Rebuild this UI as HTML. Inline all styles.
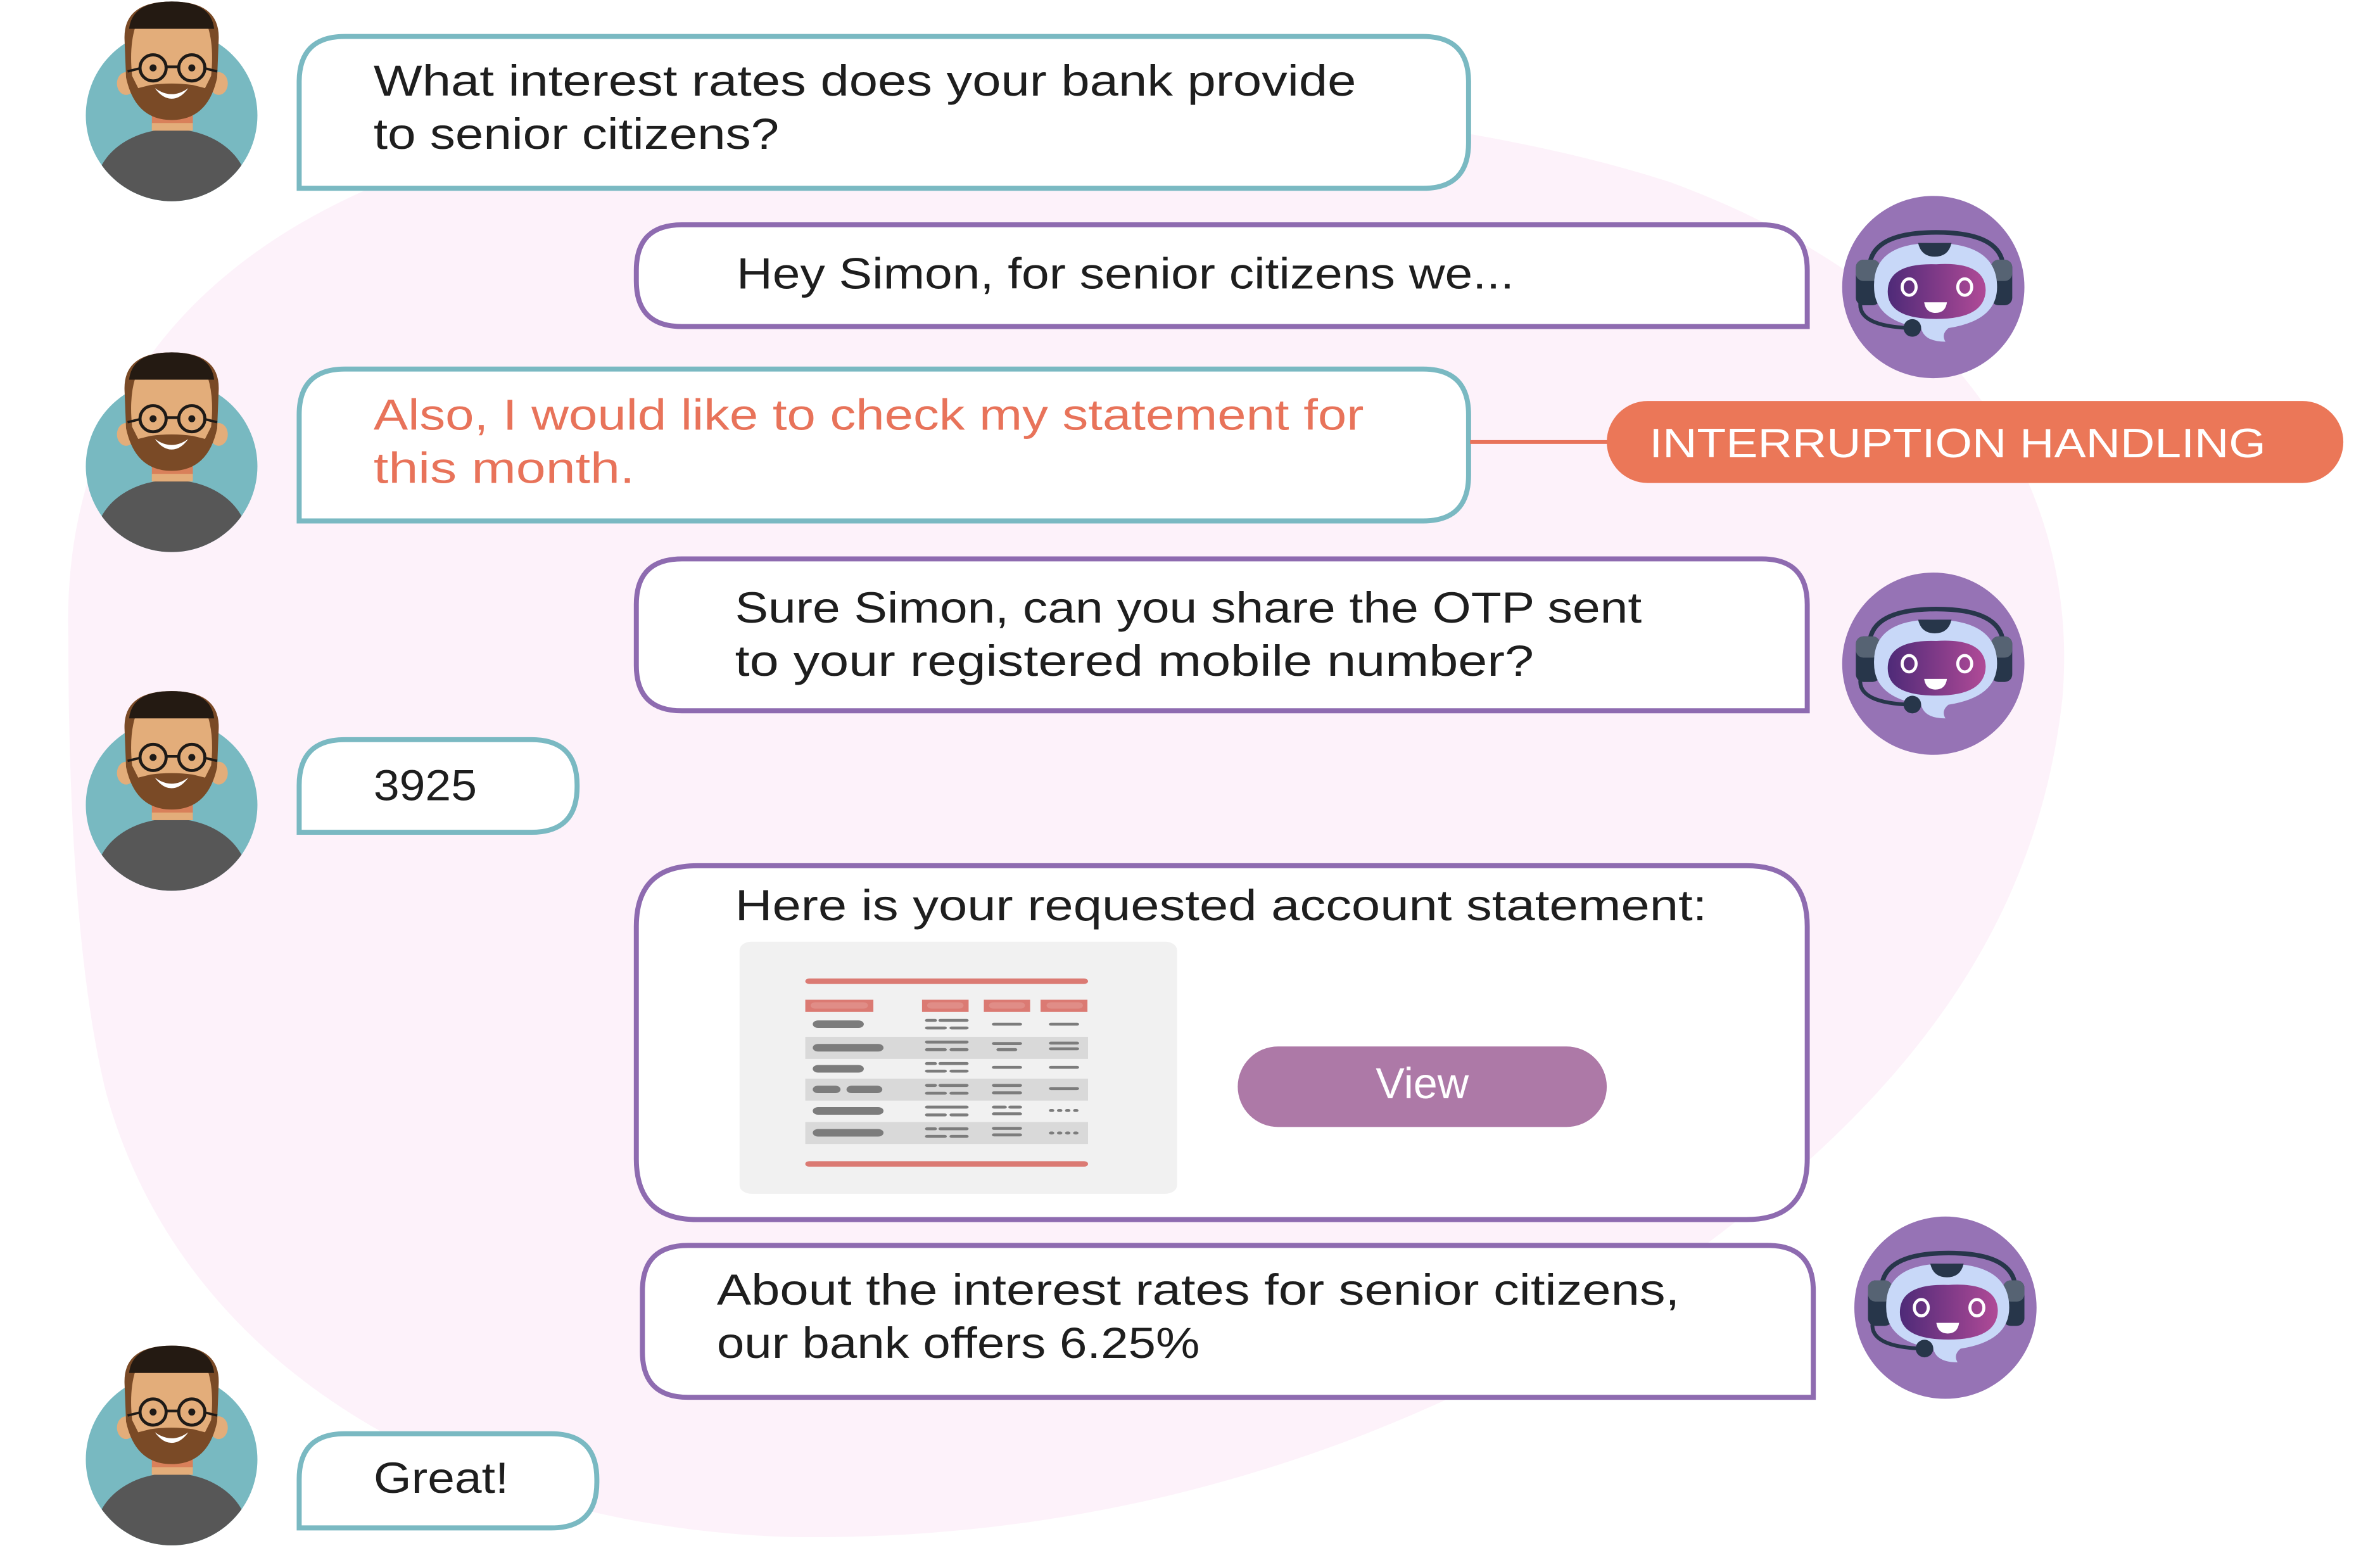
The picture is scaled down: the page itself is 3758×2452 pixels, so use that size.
<!DOCTYPE html>
<html><head><meta charset="utf-8"><style>
html,body{margin:0;padding:0;background:#fff;}
svg{display:block;}
text{font-family:"Liberation Sans",sans-serif;}
</style></head><body>
<svg width="3758" height="2452" viewBox="0 0 3758 2452" xmlns="http://www.w3.org/2000/svg">
<defs>
<clipPath id="cc"><circle cx="0" cy="0" r="56.5"/></clipPath>
<linearGradient id="vis" x1="0" y1="0" x2="1" y2="0"><stop offset="0" stop-color="#4e2a78"/><stop offset="1" stop-color="#b04a97"/></linearGradient>
<g id="man">
<circle cx="0" cy="0" r="56.5" fill="#78b9c1"/>
<g clip-path="url(#cc)"><ellipse cx="0" cy="48" rx="50" ry="39" fill="#575757"/></g>
<rect x="-13" y="-4" width="27" height="14" fill="#d9805a"/>
<rect x="-13" y="5" width="27" height="5" fill="#e3ad7a"/>
<ellipse cx="-30" cy="-21" rx="6" ry="7.5" fill="#e3ad7a"/>
<ellipse cx="31" cy="-21" rx="6" ry="7.5" fill="#e3ad7a"/>
<path d="M-31,-50 Q-32,-75 0,-75 Q32,-75 31,-50 L30,-25 Q24,3 0,3 Q-24,3 -30,-25 Z" fill="#7a4a26"/>
<path d="M-24,-58 L24,-58 Q28,-45 26,-26 L22,-18 L14,-20 Q0,-22 -14,-20 L-22,-18 L-26,-26 Q-28,-45 -24,-58 Z" fill="#e3ad7a"/>
<path d="M-28,-57 Q-26,-75 0,-75 Q26,-75 28,-57 Z" fill="#241a12"/>
<path d="M-11,-18 Q0,-10 11,-18 Q6,-11 0,-11 Q-6,-11 -11,-18 Z" fill="#fff"/>
<circle cx="-12.2" cy="-31.3" r="8.6" fill="none" stroke="#1e1a17" stroke-width="2"/>
<circle cx="13.3" cy="-31.3" r="8.6" fill="none" stroke="#1e1a17" stroke-width="2"/>
<line x1="-3.6" y1="-32" x2="4.7" y2="-32" stroke="#1e1a17" stroke-width="1.8"/>
<line x1="-20.8" y1="-31" x2="-29" y2="-29" stroke="#1e1a17" stroke-width="1.6"/>
<line x1="21.9" y1="-31" x2="30" y2="-29" stroke="#1e1a17" stroke-width="1.6"/>
<circle cx="-12.2" cy="-31.3" r="2.3" fill="#1e1a17"/>
<circle cx="13.3" cy="-31.3" r="2.3" fill="#1e1a17"/>
</g>
<g id="bot">
<circle cx="0" cy="0" r="60" fill="#9673b5"/>
<path d="M-42,-14 Q-40,-36 2,-36 Q44,-36 46,-14" fill="none" stroke="#27364a" stroke-width="3"/>
<rect x="-51" y="-18" width="16" height="30" rx="5" fill="#27364a"/>
<rect x="-51" y="-18" width="16" height="14" rx="5" fill="#566373"/>
<rect x="38" y="-18" width="14" height="30" rx="5" fill="#27364a"/>
<rect x="38" y="-18" width="14" height="14" rx="5" fill="#566373"/>
<path d="M-39,0 Q-40,-29 0,-29 Q42,-29 42,0 Q42,22 10,27 Q5,31 8,36 Q-6,36 -8,27 Q-39,22 -39,0 Z" fill="#c8d8f8"/>
<path d="M-10,-29 L12,-29 Q10,-20 1,-20 Q-8,-20 -10,-29 Z" fill="#27364a"/>
<path d="M-30,3 Q-30,-16 2,-15 Q34,-17 34.5,2 Q34,21 2,21 Q-30,21 -30,3 Z" fill="url(#vis)"/>
<ellipse cx="-15.9" cy="0" rx="4.6" ry="5.4" fill="none" stroke="#fff" stroke-width="2"/>
<ellipse cx="20.7" cy="0" rx="4.6" ry="5.4" fill="none" stroke="#fff" stroke-width="2"/>
<path d="M-6,10 L9,10 Q8,17 1.5,17 Q-5,17 -6,10 Z" fill="#fff"/>
<path d="M-48,10 Q-50,26 -14,27" fill="none" stroke="#27364a" stroke-width="2.5"/>
<circle cx="-13.8" cy="26.9" r="5.8" fill="#27364a"/>
</g>
</defs>
<g transform="scale(2.398)">
<path d="M45,420 C40,250 150,140 330,95 C550,45 900,55 1100,120 C1290,190 1370,320 1358,460 C1338,640 1220,760 1050,870 C900,960 720,1015 520,1012 C300,1005 120,900 70,720 C50,640 45,520 45,420 Z" fill="#fdf2fa"/>

<g fill="#fff" stroke-width="3.3">
<path d="M227,24 H937 Q967,24 967,54 V94 Q967,124 937,124 H197 V54 Q197,24 227,24 Z" stroke="#7ab9c2"/>
<path d="M449,148 H1160 Q1190,148 1190,178 V215 H449 Q419,215 419,185 V178 Q419,148 449,148 Z" stroke="#8e6bb0"/>
<path d="M227,243 H937 Q967,243 967,273 V313 Q967,343 937,343 H197 V273 Q197,243 227,243 Z" stroke="#7ab9c2"/>
<path d="M449,368 H1160 Q1190,368 1190,398 V468 H449 Q419,468 419,438 V398 Q419,368 449,368 Z" stroke="#8e6bb0"/>
<path d="M227,487 H350 Q380,487 380,517 V518 Q380,548 350,548 H197 V517 Q197,487 227,487 Z" stroke="#7ab9c2"/>
<path d="M459,570 H1150 Q1190,570 1190,610 V763 Q1190,803 1150,803 H459 Q419,803 419,763 V610 Q419,570 459,570 Z" stroke="#8e6bb0"/>
<path d="M453,820 H1164 Q1194,820 1194,850 V920 H453 Q423,920 423,890 V850 Q423,820 453,820 Z" stroke="#8e6bb0"/>
<path d="M227,944 H363 Q393,944 393,974 V976 Q393,1006 363,1006 H197 V974 Q197,944 227,944 Z" stroke="#7ab9c2"/>
</g>

<line x1="968" y1="291" x2="1062" y2="291" stroke="#e8735a" stroke-width="2.5"/>
<rect x="1058" y="264" width="485" height="54" rx="27" fill="#eb7758"/>
<text x="1086" y="301" font-size="27" fill="#fff" textLength="406" lengthAdjust="spacingAndGlyphs">INTERRUPTION HANDLING</text>

<g font-size="28.5" fill="#1e1e1e">
<text x="246" y="63" textLength="647" lengthAdjust="spacingAndGlyphs">What interest rates does your bank provide</text>
<text x="246" y="98" textLength="267" lengthAdjust="spacingAndGlyphs">to senior citizens?</text>
<text x="485" y="190" textLength="512" lengthAdjust="spacingAndGlyphs">Hey Simon, for senior citizens we...</text>
<text x="246" y="283" fill="#e8735a" textLength="652" lengthAdjust="spacingAndGlyphs">Also, I would like to check my statement for</text>
<text x="246" y="318" fill="#e8735a" textLength="172" lengthAdjust="spacingAndGlyphs">this month.</text>
<text x="484" y="410" textLength="597" lengthAdjust="spacingAndGlyphs">Sure Simon, can you share the OTP sent</text>
<text x="484" y="445" textLength="526" lengthAdjust="spacingAndGlyphs">to your registered mobile number?</text>
<text x="246" y="527" textLength="68" lengthAdjust="spacingAndGlyphs">3925</text>
<text x="484" y="606" textLength="640" lengthAdjust="spacingAndGlyphs">Here is your requested account statement:</text>
<text x="472" y="859" textLength="634" lengthAdjust="spacingAndGlyphs">About the interest rates for senior citizens,</text>
<text x="472" y="894" textLength="318" lengthAdjust="spacingAndGlyphs">our bank offers 6.25%</text>
<text x="246" y="983" textLength="89" lengthAdjust="spacingAndGlyphs">Great!</text>
</g>

<rect x="815" y="689" width="243" height="53" rx="26.5" fill="#ad79a7"/>
<text x="936.5" y="723" font-size="28.5" fill="#fff" text-anchor="middle">View</text>

<g transform="translate(487,620) scale(0.1966,0.1386) translate(-15,-20)">
<rect x="15" y="20" width="1465" height="1198" rx="40" fill="#f1f1f1"/>
<rect x="235" y="195" width="947" height="26" rx="13" fill="#db7a73"/>
<rect x="235" y="1063" width="947" height="26" rx="13" fill="#db7a73"/>
<g fill="#db7a73"><rect x="235" y="296" width="228" height="58"/><rect x="626" y="296" width="156" height="58"/><rect x="833" y="296" width="155" height="58"/><rect x="1023" y="296" width="157" height="58"/></g>
<g fill="#e08d87"><rect x="253" y="308" width="192" height="30" rx="15"/><rect x="643" y="308" width="122" height="30" rx="15"/><rect x="850" y="308" width="121" height="30" rx="15"/><rect x="1043" y="308" width="122" height="30" rx="15"/></g>
<g fill="#d9d9d9"><rect x="235" y="472" width="947" height="105"/><rect x="235" y="671" width="947" height="104"/><rect x="235" y="877" width="947" height="104"/></g>
<g fill="#7c7c7c">
<rect x="260" y="394" width="171" height="36" rx="18"/>
<rect x="260" y="506" width="237" height="36" rx="18"/>
<rect x="260" y="606" width="171" height="36" rx="18"/>
<rect x="260" y="704" width="93" height="36" rx="18"/><rect x="373" y="704" width="120" height="36" rx="18"/>
<rect x="260" y="806" width="237" height="36" rx="18"/>
<rect x="260" y="910" width="237" height="36" rx="18"/>
<rect x="636" y="387" width="40" height="14" rx="7"/><rect x="681" y="387" width="101" height="14" rx="7"/><rect x="636" y="423" width="73" height="14" rx="7"/><rect x="718" y="423" width="64" height="14" rx="7"/>
<rect x="636" y="490" width="146" height="14" rx="7"/><rect x="636" y="526" width="73" height="14" rx="7"/><rect x="718" y="526" width="64" height="14" rx="7"/>
<rect x="636" y="592" width="40" height="14" rx="7"/><rect x="681" y="592" width="101" height="14" rx="7"/><rect x="636" y="628" width="73" height="14" rx="7"/><rect x="718" y="628" width="64" height="14" rx="7"/>
<rect x="636" y="696" width="40" height="14" rx="7"/><rect x="681" y="696" width="101" height="14" rx="7"/><rect x="636" y="733" width="73" height="14" rx="7"/><rect x="718" y="733" width="64" height="14" rx="7"/>
<rect x="636" y="799" width="146" height="14" rx="7"/><rect x="636" y="836" width="73" height="14" rx="7"/><rect x="718" y="836" width="64" height="14" rx="7"/>
<rect x="636" y="902" width="40" height="14" rx="7"/><rect x="681" y="902" width="101" height="14" rx="7"/><rect x="636" y="938" width="73" height="14" rx="7"/><rect x="718" y="938" width="64" height="14" rx="7"/>
<rect x="860" y="405" width="101" height="14" rx="7"/>
<rect x="860" y="497" width="101" height="14" rx="7"/><rect x="875" y="526" width="70" height="14" rx="7"/>
<rect x="860" y="610" width="101" height="14" rx="7"/>
<rect x="860" y="696" width="101" height="14" rx="7"/><rect x="860" y="731" width="101" height="14" rx="7"/>
<rect x="860" y="799" width="50" height="14" rx="7"/><rect x="915" y="799" width="46" height="14" rx="7"/><rect x="860" y="831" width="101" height="14" rx="7"/>
<rect x="860" y="900" width="101" height="14" rx="7"/><rect x="860" y="931" width="101" height="14" rx="7"/>
<rect x="1051" y="405" width="101" height="14" rx="7"/>
<rect x="1051" y="495" width="101" height="14" rx="7"/><rect x="1051" y="522" width="101" height="14" rx="7"/>
<rect x="1051" y="610" width="101" height="14" rx="7"/>
<rect x="1051" y="711" width="101" height="14" rx="7"/>
<rect x="1051" y="815" width="18" height="14" rx="7"/><rect x="1078" y="815" width="18" height="14" rx="7"/><rect x="1105" y="815" width="18" height="14" rx="7"/><rect x="1132" y="815" width="18" height="14" rx="7"/>
<rect x="1051" y="922" width="18" height="14" rx="7"/><rect x="1078" y="922" width="18" height="14" rx="7"/><rect x="1105" y="922" width="18" height="14" rx="7"/><rect x="1132" y="922" width="18" height="14" rx="7"/>
</g>
</g>

<use href="#man" transform="translate(113,76)"/>
<use href="#man" transform="translate(113,307)"/>
<use href="#man" transform="translate(113,530)"/>
<use href="#man" transform="translate(113,961)"/>
<use href="#bot" transform="translate(1273,189)"/>
<use href="#bot" transform="translate(1273,437)"/>
<use href="#bot" transform="translate(1281,861)"/>
</g>
</svg>
</body></html>
